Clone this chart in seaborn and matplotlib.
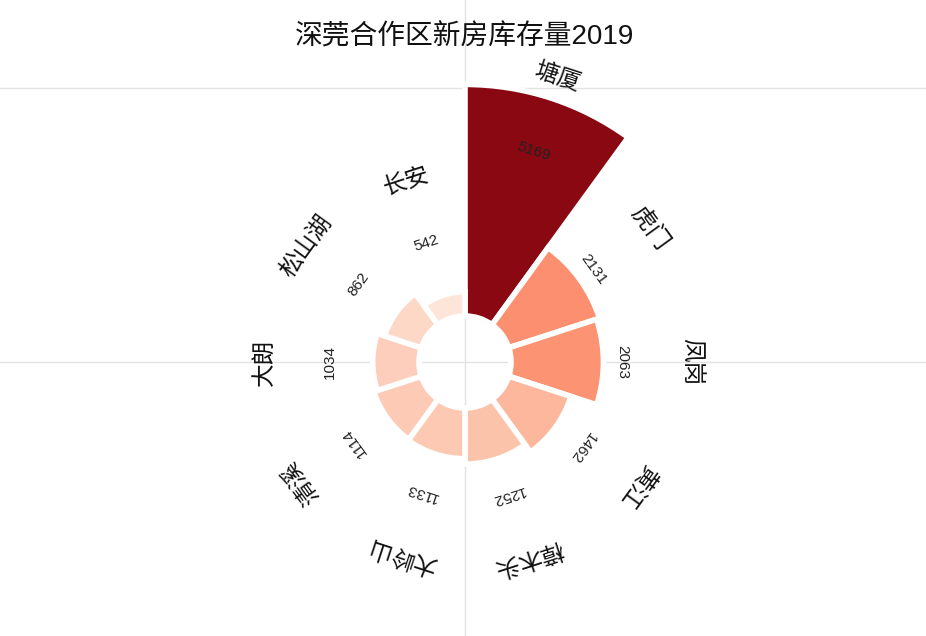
import numpy as np
import matplotlib
matplotlib.use("Agg")
import matplotlib.pyplot as plt
import seaborn as sns
import pandas as pd
from matplotlib.lines import Line2D
from matplotlib.colors import Normalize

categories = ["塘厦", "虎门", "凤岗", "黄江", "樟木头", "大岭山", "清溪", "大朗", "松山湖", "长安"]
values = [5169, 2131, 2063, 1462, 1252, 1133, 1114, 1034, 862, 542]
title = "深莞合作区新房库存量2019"

sns.set_theme(style="white")
plt.rcParams['font.family'] = ['Liberation Sans', 'Noto Sans CJK SC', 'DejaVu Sans']

df = pd.DataFrame({"category": categories, "value": values})

W, H = 926, 636
fig = plt.figure(figsize=(W / 100, H / 100), dpi=100)
fig.patch.set_facecolor('white')

cx, cy = 465, H - 362
R = 300
ax = fig.add_axes([(cx - R) / W, (cy - R) / H, 2 * R / W, 2 * R / H], projection='polar')
ax.set_facecolor('none')
px_per_unit = 0.0448
hole = 46 / px_per_unit
ax.set_ylim(0, R / px_per_unit)
ax.set_theta_zero_location('N')
ax.set_theta_direction(-1)

n = len(df)
width = 2 * np.pi / n
theta = np.arange(n) * width + width / 2
cmap = sns.color_palette("Reds", as_cmap=True)
norm = Normalize(0, 5560)
ax.bar(theta, df["value"], width=width, bottom=hole, color=cmap(norm(df["value"])),
       edgecolor='white', linewidth=4, align='center', zorder=2)
ax.set_axis_off()

for t, cat, v in zip(theta, df["category"], df["value"]):
    rot = -np.degrees(t)
    r_cat = (176 + 0.0239 * v) / px_per_unit
    r_val = (114 + 0.0208 * v) / px_per_unit
    ax.text(t, r_cat, cat, rotation=rot, rotation_mode='anchor', ha='center', va='center',
            fontsize=17, color='#111111', clip_on=False, zorder=5)
    ax.text(t, r_val, str(v), rotation=rot, rotation_mode='anchor', ha='center', va='center',
            fontsize=11, color='#222222', clip_on=False, zorder=5)

# background guide lines
for (xs, ys) in [([cx / W, cx / W], [0, 1]),
                 ([0, 1], [cy / H, cy / H]),
                 ([0, 1], [(H - 88) / H, (H - 88) / H])]:
    fig.add_artist(Line2D(xs, ys, transform=fig.transFigure, color='#e2e2e2', lw=1, zorder=-1))

fig.text(cx / W, 1 - 37 / H, title, ha='center', va='center', fontsize=20, color='#111111')

fig.savefig("out.png", dpi=100, facecolor='white')
